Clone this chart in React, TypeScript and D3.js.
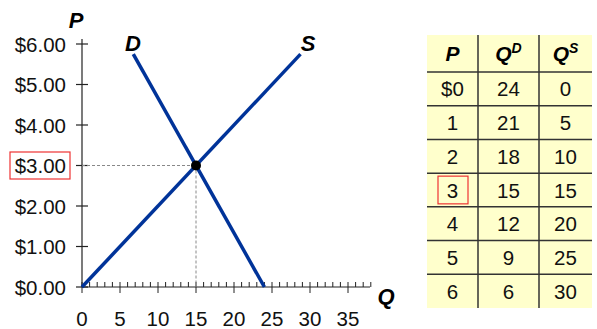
import React from "react";
import * as d3 from "d3";

// Schedule shown in the table
const prices = [0, 1, 2, 3, 4, 5, 6];
const quantityDemanded = [24, 21, 18, 15, 12, 9, 6];
const quantitySupplied = [0, 5, 10, 15, 20, 25, 30];

// Curve end points (quantity, price)
const demandQ = [24, 6.75];
const demandP = [0, 5.75];
const supplyQ = [0, 28.75];
const supplyP = [0, 5.75];

const equilibriumQ = 15;
const equilibriumP = 3;

const yTickValues = [0, 1, 2, 3, 4, 5, 6];
const xTickValues = [0, 5, 10, 15, 20, 25, 30, 35];

const W = 597;
const H = 329;
const FONT = "'Liberation Sans', Arial, sans-serif";
const BLUE = "#003399";
const FS = 20.5;

export default function App() {
  const x = d3.scaleLinear().domain([0, 15]).range([82, 196]);
  const y = d3.scaleLinear().domain([0, 6]).range([287, 44]);
  const line = d3
    .line<[number, number]>()
    .x((d) => x(d[0]))
    .y((d) => y(d[1]));

  const demand: [number, number][] = demandQ.map((q, i) => [q, demandP[i]]);
  const supply: [number, number][] = supplyQ.map((q, i) => [q, supplyP[i]]);

  const minorTicks = d3.range(0, 39);

  // table layout
  const tLeft = 427;
  const tRight = 592;
  const colEdges = [tLeft, 478, 539, tRight];
  const tTop = 35;
  const headerBottom = 72;
  const rowH = (308 - headerBottom) / prices.length;
  const rowY = d3
    .scaleLinear()
    .domain([0, prices.length])
    .range([headerBottom, headerBottom + rowH * prices.length]);
  const colCenter = (c: number) => (colEdges[c] + colEdges[c + 1]) / 2;
  const tBottom = rowY(prices.length);

  const eqRow = prices.indexOf(equilibriumP);

  return (
    <svg
      width={W}
      height={H}
      style={{ position: "absolute", left: 0, top: 0, background: "#fff" }}
      fontFamily={FONT}
    >
      {/* axes */}
      <line x1={x(0)} x2={x(0)} y1={y(6) - 5} y2={y(0)} stroke="#222" strokeWidth={1.2} />
      <line x1={x(0)} x2={370} y1={y(0)} y2={y(0)} stroke="#222" strokeWidth={1.2} />
      {yTickValues.map((v) => (
        <g key={"yt" + v}>
          <line x1={x(0) - 6} x2={x(0) + 6} y1={y(v)} y2={y(v)} stroke="#222" strokeWidth={1.2} />
          <text
            x={66}
            y={y(v)}
            textAnchor="end"
            dominantBaseline="central"
            fontSize={FS}
            fill="#111"
          >
            {"$" + v.toFixed(2)}
          </text>
        </g>
      ))}
      {minorTicks.map((v) => (
        <line
          key={"mt" + v}
          x1={x(v)}
          x2={x(v)}
          y1={y(0) - 5}
          y2={v % 5 === 0 ? y(0) + 6 : y(0)}
          stroke="#222"
          strokeWidth={1}
        />
      ))}
      {xTickValues.map((v) => (
        <text
          key={"xt" + v}
          x={x(v)}
          y={318.5}
          textAnchor="middle"
          dominantBaseline="central"
          fontSize={FS}
          fill="#111"
        >
          {v}
        </text>
      ))}

      {/* axis titles */}
      <text x={76} y={20} textAnchor="middle" dominantBaseline="central" fontSize={22} fontWeight="bold" fontStyle="italic">
        P
      </text>
      <text x={386} y={296} textAnchor="middle" dominantBaseline="central" fontSize={22} fontWeight="bold" fontStyle="italic">
        Q
      </text>

      {/* equilibrium guides */}
      <line
        x1={x(0)}
        x2={x(equilibriumQ)}
        y1={y(equilibriumP)}
        y2={y(equilibriumP)}
        stroke="#888"
        strokeWidth={1}
        strokeDasharray="3,2"
      />
      <line
        x1={x(equilibriumQ)}
        x2={x(equilibriumQ)}
        y1={y(equilibriumP)}
        y2={y(0)}
        stroke="#888"
        strokeWidth={1}
        strokeDasharray="3,2"
      />

      {/* curves */}
      <path d={line(demand) || ""} stroke={BLUE} strokeWidth={3.5} fill="none" />
      <path d={line(supply) || ""} stroke={BLUE} strokeWidth={3.5} fill="none" />
      <circle cx={x(equilibriumQ)} cy={y(equilibriumP)} r={5} fill="#000" />

      <text x={133} y={43} textAnchor="middle" dominantBaseline="central" fontSize={22} fontWeight="bold" fontStyle="italic">
        D
      </text>
      <text x={308} y={43} textAnchor="middle" dominantBaseline="central" fontSize={22} fontWeight="bold" fontStyle="italic">
        S
      </text>

      {/* highlight on equilibrium price */}
      <rect x={10} y={152} width={60} height={27} fill="none" stroke="#e33" strokeWidth={1.2} />

      {/* table */}
      <rect x={tLeft} y={tTop} width={tRight - tLeft} height={tBottom - tTop} fill="#ffffcc" />
      {d3.range(prices.length).map((i) => (
        <line
          key={"hl" + i}
          x1={tLeft}
          x2={tRight}
          y1={rowY(i)}
          y2={rowY(i)}
          stroke="#333"
          strokeWidth={1.5}
        />
      ))}
      {colEdges.slice(1, 3).map((cx) => (
        <line key={"vl" + cx} x1={cx} x2={cx} y1={tTop} y2={tBottom} stroke="#333" strokeWidth={1.5} />
      ))}
      <text x={colCenter(0)} y={(tTop + headerBottom) / 2} textAnchor="middle" dominantBaseline="central" fontSize={21} fontWeight="bold" fontStyle="italic">
        P
      </text>
      <text x={colCenter(1)} y={(tTop + headerBottom) / 2} textAnchor="middle" dominantBaseline="central" fontSize={21} fontWeight="bold" fontStyle="italic">
        Q<tspan fontSize={14} dy={-6}>D</tspan>
      </text>
      <text x={colCenter(2)} y={(tTop + headerBottom) / 2} textAnchor="middle" dominantBaseline="central" fontSize={21} fontWeight="bold" fontStyle="italic">
        Q<tspan fontSize={14} dy={-6}>S</tspan>
      </text>
      {prices.map((p, i) => {
        const cy = rowY(i) + rowH / 2;
        return (
          <g key={"row" + i}>
            <text x={colCenter(0)} y={cy} textAnchor="middle" dominantBaseline="central" fontSize={FS} fill="#111">
              {i === 0 ? "$" + p : p}
            </text>
            <text x={colCenter(1)} y={cy} textAnchor="middle" dominantBaseline="central" fontSize={FS} fill="#111">
              {quantityDemanded[i]}
            </text>
            <text x={colCenter(2)} y={cy} textAnchor="middle" dominantBaseline="central" fontSize={FS} fill="#111">
              {quantitySupplied[i]}
            </text>
          </g>
        );
      })}
      <rect
        x={438}
        y={rowY(eqRow) + 3}
        width={30}
        height={rowH - 6}
        fill="none"
        stroke="#e33"
        strokeWidth={1.2}
      />
    </svg>
  );
}
